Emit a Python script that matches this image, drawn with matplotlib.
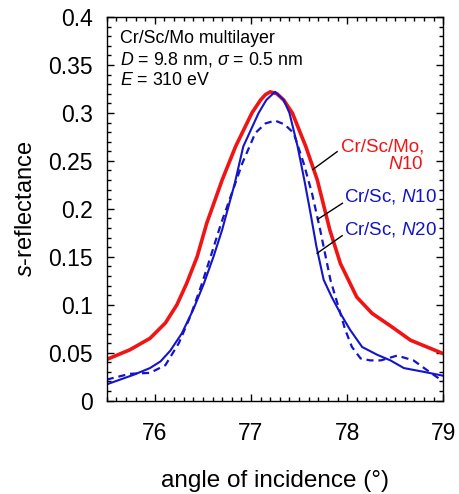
import matplotlib
matplotlib.use("Agg")
import matplotlib.pyplot as plt
from matplotlib.ticker import MultipleLocator

plt.rcParams['font.family'] = ['Liberation Sans', 'DejaVu Sans']
plt.rcParams['mathtext.fontset'] = 'custom'
plt.rcParams['mathtext.rm'] = 'Liberation Sans'
plt.rcParams['mathtext.it'] = 'Liberation Sans:italic'

# Cr/Sc/Mo, N10 (red, thick)
crscmo_x = [75.50, 75.74, 75.95, 76.11, 76.23, 76.33, 76.44, 76.54, 76.70, 76.84,
            77.01, 77.10, 77.15, 77.20, 77.27, 77.34, 77.43, 77.57, 77.69, 77.82,
            77.93, 78.10, 78.26, 78.45, 78.66, 79.00]
crscmo_y = [0.043, 0.053, 0.065, 0.081, 0.100, 0.122, 0.150, 0.185, 0.230, 0.265,
            0.300, 0.3135, 0.319, 0.322, 0.320, 0.3135, 0.300, 0.265, 0.230, 0.178,
            0.143, 0.108, 0.091, 0.078, 0.063, 0.049]

# Cr/Sc, N20 (blue solid)
crsc20_x = [75.50, 75.78, 75.95, 76.06, 76.16, 76.28, 76.40, 76.51, 76.61, 76.70, 76.83,
            76.92, 77.08, 77.16, 77.25, 77.34, 77.40, 77.485, 77.555, 77.62, 77.68,
            77.756, 77.84, 77.93, 78.03, 78.156, 78.31, 78.45, 78.59, 78.80, 79.00]
crsc20_y = [0.017, 0.027, 0.034, 0.041, 0.052, 0.070, 0.095, 0.122, 0.150, 0.178, 0.226,
            0.265, 0.300, 0.3135, 0.322, 0.3135, 0.300, 0.265, 0.230, 0.195, 0.161,
            0.126, 0.108, 0.091, 0.074, 0.056, 0.048, 0.042, 0.034, 0.030, 0.026]

# Cr/Sc, N10 (blue dashed)
crsc10_x = [75.50, 75.74, 75.95, 76.11, 76.25, 76.37, 76.49, 76.58, 76.69, 76.80,
            76.91, 77.045, 77.15, 77.25, 77.35, 77.444, 77.548, 77.635, 77.72, 77.826,
            77.93, 77.98, 78.05, 78.14, 78.24, 78.35, 78.52, 78.69, 78.87, 79.00]
crsc10_y = [0.022, 0.028, 0.029, 0.037, 0.060, 0.088, 0.122, 0.150, 0.185, 0.216,
            0.2475, 0.279, 0.289, 0.292, 0.288, 0.279, 0.2475, 0.216, 0.178, 0.126,
            0.091, 0.074, 0.056, 0.044, 0.042, 0.042, 0.047, 0.042, 0.029, 0.020]

x_ticks = [76, 77, 78, 79]
y_ticks = [0, 0.05, 0.1, 0.15, 0.2, 0.25, 0.3, 0.35, 0.4]
y_ticklabels = ['0', '0.05', '0.1', '0.15', '0.2', '0.25', '0.3', '0.35', '0.4']

RED = '#f01414'
BLUE = '#1414c8'

fig = plt.figure(figsize=(4.59, 4.94), dpi=100)
ax = fig.add_axes([0.2325, 0.1889, 0.7333, 0.7767])

ax.plot(crscmo_x, crscmo_y, color=RED, lw=2.6, solid_joinstyle='round')
ax.plot(crsc20_x, crsc20_y, color=BLUE, lw=1.5, solid_joinstyle='round')
ax.plot(crsc10_x, crsc10_y, color=BLUE, lw=1.6, dashes=(3.2, 2.2))

ax.set_xlim(75.5, 79)
ax.set_ylim(0, 0.4)
ax.set_xticks(x_ticks)
ax.set_xticklabels([str(t) for t in x_ticks])
ax.set_yticks(y_ticks)
ax.set_yticklabels(y_ticklabels)
ax.xaxis.set_minor_locator(MultipleLocator(0.1))
ax.yaxis.set_minor_locator(MultipleLocator(0.01))
ax.tick_params(which='both', direction='in', top=True, right=True, width=1.0)
ax.tick_params(which='major', length=5)
ax.tick_params(which='minor', length=3)
ax.tick_params(axis='x', which='major', labelsize=16.5, pad=15)
ax.tick_params(axis='y', which='major', labelsize=16.5, pad=10)
for s in ax.spines.values():
    s.set_linewidth(1.0)

ax.set_xlabel('angle of incidence (°)', fontsize=17.5, labelpad=18)
ax.set_ylabel('$s$-reflectance', fontsize=17, labelpad=8)

ax.text(0.04, 0.965, 'Cr/Sc/Mo multilayer\n$D$ = 9.8 nm, $\\sigma$ = 0.5 nm\n$E$ = 310 eV',
        transform=ax.transAxes, fontsize=12.8, va='top', ha='left', linespacing=1.2)

ax.text(78.80, 0.2555, 'Cr/Sc/Mo,\n$N$10', color=RED, fontsize=13.5,
        ha='right', va='center', linespacing=1.05)
ax.text(78.93, 0.2124, 'Cr/Sc, $N$10', color=BLUE, fontsize=13.5, ha='right', va='center')
ax.text(78.93, 0.178, 'Cr/Sc, $N$20', color=BLUE, fontsize=13.5, ha='right', va='center')

ax.plot([77.896, 77.646], [0.2596, 0.2412], color='black', lw=1.0)
ax.plot([77.951, 77.694], [0.2058, 0.1891], color='black', lw=1.0)
ax.plot([77.948, 77.688], [0.172, 0.1537], color='black', lw=1.0)

fig.savefig('out.png', dpi=100)
